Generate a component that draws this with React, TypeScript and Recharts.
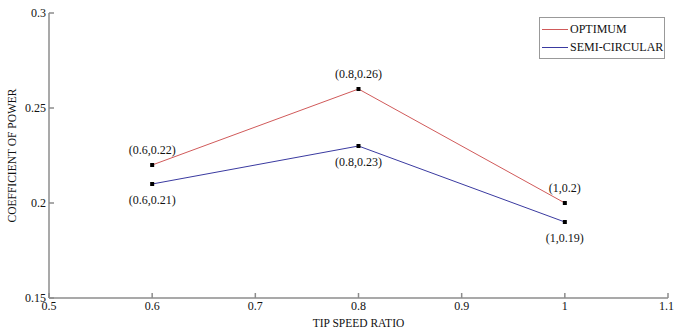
import { LineChart, Line, XAxis, YAxis, Legend, LabelList, Label } from "recharts";

const tsr = [0.6, 0.8, 1];
const optimum = [0.22, 0.26, 0.2];
const semiCircular = [0.21, 0.23, 0.19];
const xTicks = [0.5, 0.6, 0.7, 0.8, 0.9, 1, 1.1];
const yTicks = [0.15, 0.2, 0.25, 0.3];

const data = tsr.map((x, i) => ({ x, opt: optimum[i], semi: semiCircular[i] }));

const FONT = "Liberation Serif";
const AXIS = "#8c8c8c";
const RED = "#d05a5a";
const BLUE = "#3a3aa0";

const SquareDot = (props: any) => {
  const { cx, cy } = props;
  if (cx == null || cy == null) return null;
  return <rect x={cx - 2} y={cy - 2} width={4} height={4} fill="#000" />;
};

const pointLabel = (key: "opt" | "semi", dy: number) => (props: any) => {
  const { x, y, index } = props;
  const d = data[index];
  return (
    <text
      x={x}
      y={y + dy}
      textAnchor="middle"
      dominantBaseline="central"
      fontSize={12}
      fontFamily={FONT}
      fill="#111"
    >
      {`(${d.x},${d[key]})`}
    </text>
  );
};

const LegendBox = () => (
  <div
    style={{
      width: 126,
      height: 42,
      border: "1px solid #999",
      background: "#fff",
      fontFamily: FONT,
      fontSize: 12,
      color: "#111",
      boxSizing: "border-box",
      padding: "2px 0 0 2px",
      whiteSpace: "nowrap",
      textAlign: "left",
    }}
  >
    {[
      { name: "OPTIMUM", color: RED },
      { name: "SEMI-CIRCULAR", color: BLUE },
    ].map((it) => (
      <div key={it.name} style={{ display: "flex", alignItems: "center", height: 18 }}>
        <span style={{ display: "inline-block", width: 26, height: 1, background: it.color, marginRight: 2 }} />
        <span>{it.name}</span>
      </div>
    ))}
  </div>
);

export default function App() {
  return (
    <div style={{ position: "absolute", left: 0, top: 0, width: 674, height: 329, background: "#fff", fontFamily: FONT }}>
      <LineChart
        width={674}
        height={329}
        data={data}
        margin={{ top: 13, right: 6, left: 0, bottom: 0 }}
      >
        <XAxis
          dataKey="x"
          type="number"
          domain={[0.5, 1.1]}
          ticks={xTicks}
          height={31}
          stroke={AXIS}
          strokeWidth={1.5}
          tickSize={-5}
          tickMargin={8}
          tick={{ fill: "#111", fontSize: 12, fontFamily: FONT }}
          allowDataOverflow
        >
          <Label value="TIP SPEED RATIO" position="insideBottom" offset={2} fontSize={11.5} fill="#111" fontFamily={FONT} />
        </XAxis>
        <XAxis
          xAxisId="top"
          orientation="top"
          dataKey="x"
          type="number"
          domain={[0.5, 1.1]}
          ticks={xTicks}
          height={0}
          stroke="#666"
          tickSize={-5}
          tick={false}
        />
        <YAxis
          type="number"
          domain={[0.15, 0.3]}
          ticks={yTicks}
          width={49}
          stroke={AXIS}
          strokeWidth={1.5}
          tickSize={-5}
          tickMargin={8}
          tick={{ fill: "#111", fontSize: 12, fontFamily: FONT }}
          allowDataOverflow
        >
          <Label
            content={(p: any) => {
              const vb = p.viewBox;
              const cx = vb.x + 12;
              const cy = vb.y + vb.height / 2;
              return (
                <text
                  x={cx}
                  y={cy}
                  transform={`rotate(-90 ${cx} ${cy})`}
                  textAnchor="middle"
                  dominantBaseline="central"
                  fontSize={11.5}
                  fontFamily={FONT}
                  fill="#111"
                >
                  COEFFICIENT OF POWER
                </text>
              );
            }}
          />
        </YAxis>
        <YAxis
          yAxisId="right"
          orientation="right"
          type="number"
          domain={[0.15, 0.3]}
          ticks={yTicks}
          width={0}
          stroke="#666"
          tickSize={-5}
          tick={false}
        />
        <Legend
          content={<LegendBox />}
          layout="horizontal"
          verticalAlign="middle"
          align="center"
          wrapperStyle={{ position: "absolute", left: 539, top: 17, width: 126, height: 42 }}
        />
        <Line
          dataKey="opt"
          name="OPTIMUM"
          stroke={RED}
          strokeWidth={1}
          dot={<SquareDot />}
          activeDot={false}
          isAnimationActive={false}
        >
          <LabelList dataKey="opt" content={pointLabel("opt", -15)} />
        </Line>
        <Line
          dataKey="semi"
          name="SEMI-CIRCULAR"
          stroke={BLUE}
          strokeWidth={1}
          dot={<SquareDot />}
          activeDot={false}
          isAnimationActive={false}
        >
          <LabelList dataKey="semi" content={pointLabel("semi", 16)} />
        </Line>
      </LineChart>
    </div>
  );
}
